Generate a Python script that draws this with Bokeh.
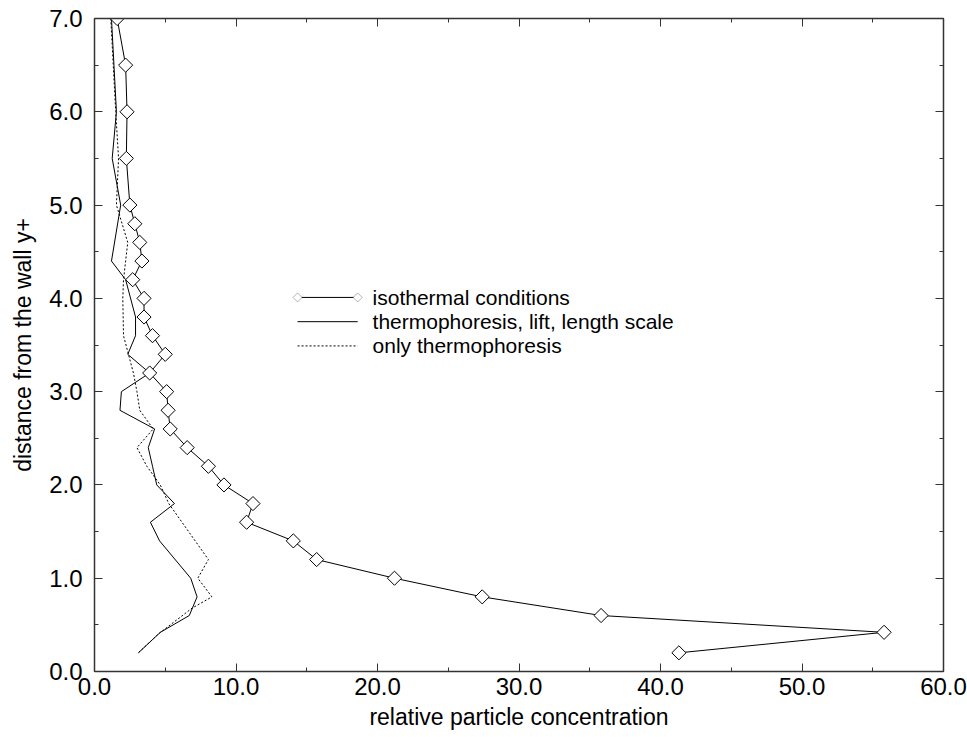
from bokeh.plotting import figure
from bokeh.models import (LinearAxis, SingleIntervalTicker, NumeralTickFormatter, Range1d,
                          Arrow, PolyAnnotation, Label, CustomJSTickFormatter)
from bokeh.embed import file_html
from bokeh.resources import INLINE
import math

# ---------------- data ----------------
iso_y = [7.0, 6.5, 6.0, 5.5, 5.0, 4.8, 4.6, 4.4, 4.2, 4.0, 3.8, 3.6, 3.4, 3.2, 3.0, 2.8, 2.6,
         2.4, 2.2, 2.0, 1.8, 1.6, 1.4, 1.2, 1.0, 0.8, 0.6, 0.42, 0.2]
iso_x = [1.6, 2.2, 2.3, 2.25, 2.5, 2.85, 3.2, 3.35, 2.7, 3.5, 3.5, 4.1, 5.0, 3.9, 5.1, 5.2, 5.35,
         6.55, 8.05, 9.15, 11.2, 10.75, 14.05, 15.7, 21.2, 27.4, 35.8, 55.8, 41.3]

lift_y = [7.0, 6.0, 5.5, 5.0, 4.4, 4.2, 3.8, 3.6, 3.4, 3.2, 3.0, 2.8, 2.6, 2.4, 2.2, 2.0, 1.8,
          1.6, 1.4, 1.0, 0.8, 0.6, 0.42, 0.2]
lift_x = [1.2, 1.55, 1.25, 1.85, 1.2, 2.2, 2.9, 2.9, 2.35, 3.9, 1.9, 1.8, 4.25, 3.8, 4.1, 4.4, 5.65,
          3.95, 4.6, 6.8, 7.25, 6.7, 4.65, 3.1]

thermo_y = [7.0, 6.0, 5.5, 5.0, 4.8, 4.6, 4.4, 4.2, 4.0, 3.6, 3.4, 3.2, 3.0, 2.8, 2.6, 2.4, 2.2,
            2.0, 1.8, 1.2, 1.0, 0.8, 0.68, 0.4, 0.2]
thermo_x = [1.15, 1.5, 1.7, 1.55, 1.95, 2.35, 2.2, 2.05, 2.0, 2.05, 2.4, 2.75, 3.0, 3.2, 4.15, 3.0, 3.7,
            4.65, 5.25, 8.05, 7.3, 8.3, 6.9, 4.5, 3.1]

legend_labels = ["isothermal conditions", "thermophoresis, lift, length scale", "only thermophoresis"]
x_label = "relative particle concentration"
y_label = "distance from the wall y+"

# ---------------- figure ----------------
FONT = "Liberation Sans"
p = figure(width=967, height=737, output_backend="svg", toolbar_location=None,
           x_range=Range1d(0, 60), y_range=Range1d(0, 7),
           x_axis_location=None, y_axis_location=None,
           min_border_left=94, min_border_right=24, min_border_top=18, min_border_bottom=66)
p.grid.visible = False
p.outline_line_color = None
p.background_fill_color = "white"
p.border_fill_color = "white"

blank = CustomJSTickFormatter(code="return '';")
bottom = LinearAxis(ticker=SingleIntervalTicker(interval=10, num_minor_ticks=2),
                    formatter=NumeralTickFormatter(format="0.0"), axis_label=x_label)
left = LinearAxis(ticker=SingleIntervalTicker(interval=1, num_minor_ticks=2),
                  formatter=NumeralTickFormatter(format="0.0"), axis_label=y_label)
top = LinearAxis(ticker=SingleIntervalTicker(interval=10, num_minor_ticks=2), formatter=blank,
                 major_label_standoff=0)
right = LinearAxis(ticker=SingleIntervalTicker(interval=1, num_minor_ticks=2), formatter=blank,
                   major_label_standoff=0)
p.add_layout(bottom, "below")
p.add_layout(left, "left")
p.add_layout(top, "above")
p.add_layout(right, "right")

for ax in [bottom, left, top, right]:
    ax.axis_line_color = "#333333"
    ax.axis_line_width = 1.5
    ax.major_tick_line_color = "#333333"
    ax.minor_tick_line_color = "#333333"
    ax.major_tick_in = 8
    ax.major_tick_out = 0
    ax.minor_tick_in = 4
    ax.minor_tick_out = 0
    ax.major_label_text_font = FONT
    ax.major_label_text_color = "black"
    ax.axis_label_text_font = FONT
    ax.axis_label_text_font_style = "normal"
    ax.axis_label_text_color = "black"

for ax in [bottom, left]:
    ax.major_label_text_font_size = "24px"
    ax.axis_label_text_font_size = "23px"
bottom.major_label_standoff = 6
left.major_label_standoff = 12
bottom.axis_label_standoff = 6
left.axis_label_standoff = 10

# ---------------- data series ----------------
p.line(thermo_x, thermo_y, line_color="black", line_width=1, line_dash="2 2")
p.line(lift_x, lift_y, line_color="black", line_width=1)
p.line(iso_x, iso_y, line_color="black", line_width=1)
p.scatter(iso_x, iso_y, marker="square", size=10, angle=math.pi / 4,
          fill_color="white", line_color="black", line_width=1)

# ---------------- legend (drawn by hand) ----------------
LX0, LX1, LXT = 14.35, 18.6, 19.65
LROWS = [4.01, 3.75, 3.49]
dashes = ["solid", "solid", "2 2"]
for yy, dash in zip(LROWS, dashes):
    p.add_layout(Arrow(x_start=LX0, y_start=yy, x_end=LX1, y_end=yy, start=None, end=None,
                       line_color="black", line_width=1, line_dash=dash))
hx, hy = 4.5 / 14.15, 4.5 / 93.3
for cx in [LX0, LX1]:
    cy = LROWS[0]
    p.add_layout(PolyAnnotation(xs=[cx - hx, cx, cx + hx, cx], ys=[cy, cy + hy, cy, cy - hy],
                                fill_color="white", fill_alpha=1, line_color="black", line_width=1))
for yy, txt in zip(LROWS, legend_labels):
    p.add_layout(Label(x=LXT, y=yy, text=txt, text_font=FONT, text_font_size="21px",
                       text_baseline="middle", text_color="black"))

open("out.html", "w").write(file_html(p, INLINE))
